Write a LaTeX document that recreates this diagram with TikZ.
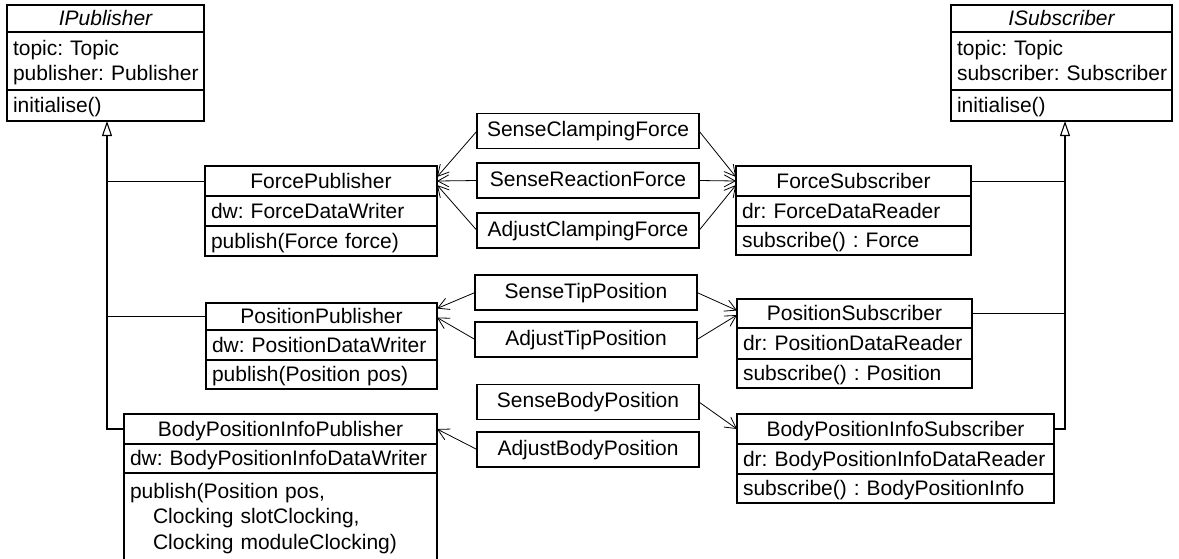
\documentclass[tikz,border=0pt]{standalone}
\usepackage{fontspec}
\setmainfont{Liberation Sans}
\usetikzlibrary{arrows.meta}
\frenchspacing
\begin{document}
\begin{tikzpicture}[x=1pt,y=-1pt,
  font=\fontsize{21}{25.5}\selectfont,
  row/.style={draw, line width=1.1pt, anchor=north west, outer sep=0pt, inner xsep=6pt, inner ysep=0pt, text height=17pt, text depth=3pt, align=left},
  hdr/.style={row, align=center},
  mid/.style={draw, line width=1.1pt, minimum width=222pt, minimum height=35pt, inner sep=0pt, outer sep=0pt, text height=15pt, text depth=4pt},
  assoc/.style={line width=0.8pt, -{Straight Barb[length=11pt,width=12pt]}},
  gen/.style={line width=1.1pt, -{Triangle[open,length=15pt,width=10pt]}},
  link/.style={line width=1pt}]
\useasboundingbox (0,0) rectangle (1179,558);

% IPublisher
\node[hdr, text width=185pt, minimum height=27pt] (iph) at (7,5) {\itshape IPublisher};
\node[row, text width=185pt, minimum height=58pt, text depth=28.5pt] (ipa) at (iph.south west) {\mbox{topic: Topic}\\\mbox{publisher: Publisher}};
\node[row, text width=185pt, minimum height=31pt] (ipm) at (ipa.south west) {initialise()};

% ISubscriber
\node[hdr, text width=209pt, minimum height=27pt] (ish) at (951,5) {\itshape ISubscriber};
\node[row, text width=209pt, minimum height=58pt, text depth=28.5pt] (isa) at (ish.south west) {\mbox{topic: Topic}\\\mbox{subscriber: Subscriber}};
\node[row, text width=209pt, minimum height=31pt] (ism) at (isa.south west) {initialise()};

% ForcePublisher
\node[hdr, text width=220pt, minimum height=30pt] (fph) at (205,166) {ForcePublisher};
\node[row, text width=220pt, minimum height=30pt] (fpa) at (fph.south west) {\mbox{dw: ForceDataWriter}};
\node[row, text width=220pt, minimum height=30pt] (fpm) at (fpa.south west) {\mbox{publish(Force force)}};

% PositionPublisher
\node[hdr, text width=219pt, minimum height=27pt] (pph) at (206,303) {PositionPublisher};
\node[row, text width=219pt, minimum height=30pt] (ppa) at (pph.south west) {\mbox{dw: PositionDataWriter}};
\node[row, text width=219pt, minimum height=29pt] (ppm) at (ppa.south west) {\mbox{publish(Position pos)}};

% BodyPositionInfoPublisher
\node[hdr, text width=301pt, minimum height=30pt] (bph) at (124,414) {BodyPositionInfoPublisher};
\node[row, text width=301pt, minimum height=29pt] (bpa) at (bph.south west) {\mbox{dw: BodyPositionInfoDataWriter}};
\node[row, text width=301pt, minimum height=89pt, text depth=56pt] (bpm) at (bpa.south west) {\mbox{publish(Position pos,}\\\mbox{\hspace*{23pt}Clocking slotClocking,}\\\mbox{\hspace*{23pt}Clocking moduleClocking)}};

% ForceSubscriber
\node[hdr, text width=223pt, minimum height=30pt] (fsh) at (736,166) {ForceSubscriber};
\node[row, text width=223pt, minimum height=30pt] (fsa) at (fsh.south west) {\mbox{dr: ForceDataReader}};
\node[row, text width=223pt, minimum height=29pt] (fsm) at (fsa.south west) {\mbox{subscribe() : Force}};

% PositionSubscriber
\node[hdr, text width=223pt, minimum height=29pt] (psh) at (737,299) {PositionSubscriber};
\node[row, text width=223pt, minimum height=31pt] (psa) at (psh.south west) {\mbox{dr: PositionDataReader}};
\node[row, text width=223pt, minimum height=29pt] (psm) at (psa.south west) {\mbox{subscribe() : Position}};

% BodyPositionInfoSubscriber
\node[hdr, text width=305pt, minimum height=30pt] (bsh) at (737,414) {BodyPositionInfoSubscriber};
\node[row, text width=305pt, minimum height=30pt] (bsa) at (bsh.south west) {\mbox{dr: BodyPositionInfoDataReader}};
\node[row, text width=305pt, minimum height=29pt] (bsm) at (bsa.south west) {\mbox{subscribe() : BodyPositionInfo}};

% middle classes
\node[mid] (scf) at (588,131) {SenseClampingForce};
\node[mid] (srf) at (588,180.5) {SenseReactionForce};
\node[mid] (acf) at (588,230.5) {AdjustClampingForce};
\node[mid] (stp) at (586,292.5) {SenseTipPosition};
\node[mid] (atp) at (586,339.5) {AdjustTipPosition};
\node[mid] (sbp) at (588,402) {SenseBodyPosition};
\node[mid] (abp) at (588,449.5) {AdjustBodyPosition};

% generalisation (left)
\coordinate (lbus) at (107,429);
\draw[link] (fph.west) -- (fph.west -| lbus);
\draw[link] (pph.west) -- (pph.west -| lbus);
\draw[gen] (bph.west) -| (lbus |- ipm.south);

% generalisation (right)
\coordinate (rbus) at (1065,429);
\draw[link] (fsh.east) -- (fsh.east -| rbus);
\draw[link] (psh.east) -- (psh.east -| rbus);
\draw[gen] (bsh.east) -| (rbus |- ism.south);

% associations
\draw[assoc] (scf.west) -- ([yshift=4pt]fph.east);
\draw[assoc] (srf.west) -- (fph.east);
\draw[assoc] (acf.west) -- ([yshift=-4pt]fph.east);
\draw[assoc] (scf.east) -- ([yshift=4pt]fsh.west);
\draw[assoc] (srf.east) -- (fsh.west);
\draw[assoc] (acf.east) -- ([yshift=-4pt]fsh.west);
\draw[assoc] (stp.west) -- ([yshift=8pt]pph.east);
\draw[assoc] (atp.west) -- ([yshift=-1pt]pph.east);
\draw[assoc] (stp.east) -- ([yshift=3pt]psh.west);
\draw[assoc] (atp.east) -- ([yshift=-1.5pt]psh.west);
\draw[assoc] (sbp.east) -- (bsh.west);
\draw[assoc] (abp.west) -- (bph.east);
\end{tikzpicture}
\end{document}
